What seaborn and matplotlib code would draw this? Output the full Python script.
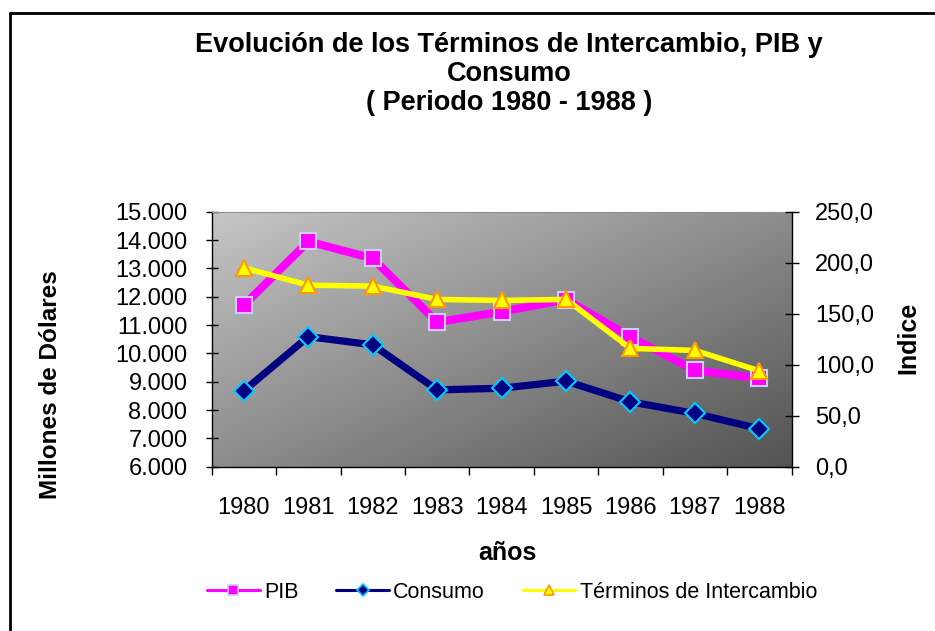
import numpy as np
import matplotlib
matplotlib.use("Agg")
import matplotlib.pyplot as plt
import matplotlib.ticker as mticker
from matplotlib.lines import Line2D
import seaborn as sns

#Data
years = [1980, 1981, 1982, 1983, 1984, 1985, 1986, 1987, 1988]
pib = [11700, 13950, 13350, 11100, 11470, 11900, 10580, 9400, 9120]
consumo = [8680, 10590, 10300, 8710, 8770, 9020, 8290, 7880, 7340]
terminos = [195.0, 178.0, 177.0, 164.0, 163.0, 164.0, 116.0, 114.0, 94.0]

series_names = ["PIB", "Consumo", "Términos de Intercambio"]

sns.set_style("white")
plt.rcParams['font.family'] = ['Liberation Sans', 'DejaVu Sans']
plt.rcParams['text.color'] = 'black'
plt.rcParams['xtick.color'] = 'black'
plt.rcParams['ytick.color'] = 'black'

W, H = 935, 631
fig = plt.figure(figsize=(W / 100, H / 100), dpi=100)
ax = fig.add_axes([211.7 / W, 1 - 466.7 / H, (791.5 - 211.7) / W, 255 / H])
ax2 = ax.twinx()

#gray gradient plot area, light top-left to dark bottom-right
gx, gy = np.meshgrid(np.linspace(0, 1, 300), np.linspace(0, 1, 150))
t = (gx + gy) / 2
shade = (198 - 115 * t) / 255
grad = np.dstack([shade, shade, shade])
ax.imshow(grad, extent=(1979.5, 1988.5, 6000, 15000), aspect='auto',
          origin='upper', zorder=0, interpolation='bilinear')

sns.lineplot(x=years, y=pib, ax=ax, color='#FF00FF', lw=5.8, marker='s',
             markersize=11, markerfacecolor='#FF00FF', markeredgecolor='#CCCCFF',
             markeredgewidth=1.5, zorder=3, legend=False)
sns.lineplot(x=years, y=consumo, ax=ax, color='#000080', lw=5.2, marker='D',
             markersize=10, markerfacecolor='#000080', markeredgecolor='#00CCFF',
             markeredgewidth=1.5, zorder=3, legend=False)
sns.lineplot(x=years, y=terminos, ax=ax2, color='#FFFF00', lw=4, marker='^',
             markersize=12, markerfacecolor='#FFFF00', markeredgecolor='#FF9900',
             markeredgewidth=1.5, zorder=3, legend=False)

ax.set_xlim(1979.5, 1988.5)
ax.set_ylim(6000, 15000)
ax2.set_ylim(0, 250)
for a in (ax, ax2):
    a.set_xlabel('')
    a.set_ylabel('')
    a.grid(False)

ax.yaxis.set_major_locator(mticker.MultipleLocator(1000))
ax.yaxis.set_major_formatter(mticker.FuncFormatter(lambda v, p: f"{v:,.0f}".replace(",", ".")))
ax2.yaxis.set_major_locator(mticker.MultipleLocator(50))
ax2.yaxis.set_major_formatter(mticker.FuncFormatter(lambda v, p: f"{v:.1f}".replace(".", ",")))

ax.set_xticks(years)
ax.set_xticks(np.arange(1979.5, 1989, 1), minor=True)
ax.tick_params(axis='x', which='major', bottom=True, length=0, pad=22, labelsize=17)
ax.tick_params(axis='x', which='minor', bottom=True, length=6, width=1, direction='out', color='black')
ax.tick_params(axis='y', left=True, direction='inout', length=9, width=1, color='black', pad=13, labelsize=17)
ax2.tick_params(axis='y', right=True, direction='inout', length=10, width=1, color='black', pad=12, labelsize=17)

ax.spines['right'].set_visible(False)
ax.spines['top'].set_color('#909090')
for s in ('left', 'bottom'):
    ax.spines[s].set_color('black')
    ax.spines[s].set_linewidth(1)
for s in ('top', 'left', 'bottom'):
    ax2.spines[s].set_visible(False)
ax2.spines['right'].set_color('black')
ax2.spines['right'].set_linewidth(1)

#titles
fig.text(509 / W, 1 - 32 / H,
         "Evolución de los Términos de Intercambio, PIB y\nConsumo\n( Periodo 1980 - 1988 )",
         ha='center', va='top', fontsize=19.5, fontweight='bold', linespacing=1.16)
fig.text(51 / W, 1 - 385 / H, "Millones de Dólares", rotation=90, ha='center', va='center',
         fontsize=17.5, fontweight='bold')
fig.text(908 / W, 1 - 338 / H, "Indice", rotation=90, ha='center', va='center',
         fontsize=18, fontweight='bold')
fig.text(507 / W, 1 - 553 / H, "años", ha='center', va='center', fontsize=18, fontweight='bold')

#legend
handles = [
    Line2D([], [], color='#FF00FF', lw=2.2, marker='s', markersize=7,
           markerfacecolor='#FF00FF', markeredgecolor='#CCCCFF', markeredgewidth=1.2),
    Line2D([], [], color='#000080', lw=2.2, marker='D', markersize=6,
           markerfacecolor='#000080', markeredgecolor='#00CCFF', markeredgewidth=1.2),
    Line2D([], [], color='#FFFF00', lw=2.2, marker='^', markersize=7,
           markerfacecolor='#FFFF00', markeredgecolor='#FF9900', markeredgewidth=1.2),
]
fig.legend(handles=handles, labels=series_names, loc='center',
           bbox_to_anchor=(512 / W, 1 - 592 / H), ncol=3, frameon=False, fontsize=15.5,
           handlelength=2.45, handletextpad=0.2, columnspacing=1.75)

#chart border (left and top edges visible in the reference)
fig.add_artist(Line2D([10 / W, 10 / W], [0, 1 - 13.3 / H], transform=fig.transFigure,
                      color='black', lw=2))
fig.add_artist(Line2D([10 / W, 1], [1 - 13.3 / H, 1 - 13.3 / H], transform=fig.transFigure,
                      color='black', lw=2))

fig.savefig('out.png', dpi=100)
